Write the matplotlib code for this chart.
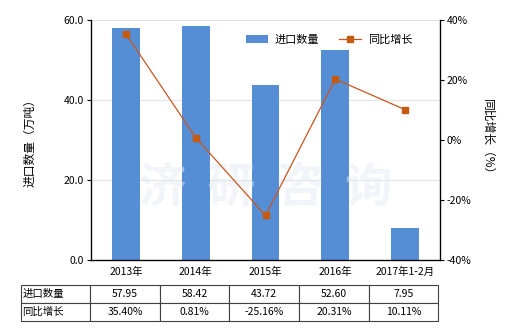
import numpy as np
import matplotlib.pyplot as plt

plt.rcParams['font.family'] = ['Noto Sans CJK SC', 'DejaVu Sans']

categories = ["2013年", "2014年", "2015年", "2016年", "2017年1-2月"]
import_qty = [57.95, 58.42, 43.72, 52.60, 7.95]
growth = [35.40, 0.81, -25.16, 20.31, 10.11]

qty_labels = ["57.95", "58.42", "43.72", "52.60", "7.95"]
growth_labels = ["35.40%", "0.81%", "-25.16%", "20.31%", "10.11%"]

bar_color = "#558ED5"
line_color = "#C8561E"

fig = plt.figure(figsize=(5.2, 3.3), dpi=100)
ax = fig.add_axes([91/520, 70/330, 349/520, 240/330])
ax2 = ax.twinx()

x = np.arange(len(categories))
bars = ax.bar(x, import_qty, width=0.4, color=bar_color, zorder=2, label="进口数量")
line, = ax2.plot(x, growth, color=line_color, lw=0.9, marker="s", markersize=4,
                 markerfacecolor="#C55A11", markeredgecolor="#C55A11", zorder=3, label="同比增长")

ax.set_xlim(-0.5, 4.5)
ax.set_ylim(0, 60)
ax.set_yticks([0, 20, 40, 60])
ax.set_yticklabels(["0.0", "20.0", "40.0", "60.0"])
ax2.set_ylim(-40, 40)
ax2.set_yticks([-40, -20, 0, 20, 40])
ax2.set_yticklabels(["-40%", "-20%", "0%", "20%", "40%"])

ax.grid(axis="y", color="#E3E3E3", lw=0.8, zorder=0)
ax.set_xticks(x)
ax.set_xticklabels(categories)
ax.tick_params(axis="x", length=0, labelsize=7.5, pad=5)
ax.tick_params(axis="y", labelsize=7.5, length=3, pad=2)
ax2.tick_params(axis="y", labelsize=7.5, length=3, pad=2)

ax.spines["top"].set_visible(False)
ax2.spines["top"].set_visible(False)
for s in ["left", "bottom"]:
    ax.spines[s].set_linewidth(0.9)
ax2.spines["right"].set_linewidth(0.9)

ax.set_ylabel("进口数量（万吨）", fontsize=8.5, labelpad=20)
ax2.set_ylabel("同比增长（%）", fontsize=8.5, rotation=270, labelpad=16)

# watermark
ax.text(0.5, 0.3, "济  研  咨  询", transform=ax.transAxes, fontsize=34, fontweight="bold",
        color="#E4EAF2", alpha=0.5, ha="center", va="center", zorder=2.5)

ax2.legend([bars, line], ["进口数量", "同比增长"], loc="upper right", ncol=2,
           frameon=False, fontsize=8, bbox_to_anchor=(0.95, 0.98),
           handlelength=2.0, columnspacing=1.8, handletextpad=0.6)

# data table under the chart
rows = [["进口数量"] + qty_labels, ["同比增长"] + growth_labels]
tbl = ax.table(cellText=rows, cellLoc="center", bbox=[-0.2014, -0.254, 1.1964, 0.15])
tbl.auto_set_font_size(False)
tbl.set_fontsize(7.5)
for (r, c), cell in tbl.get_celld().items():
    cell.set_edgecolor("#404040")
    cell.set_linewidth(0.8)
    if c == 0:
        cell.set_text_props(ha="left")
        cell._loc = "left"
        cell.PAD = 0.02

fig.savefig("out.png", dpi=100)
